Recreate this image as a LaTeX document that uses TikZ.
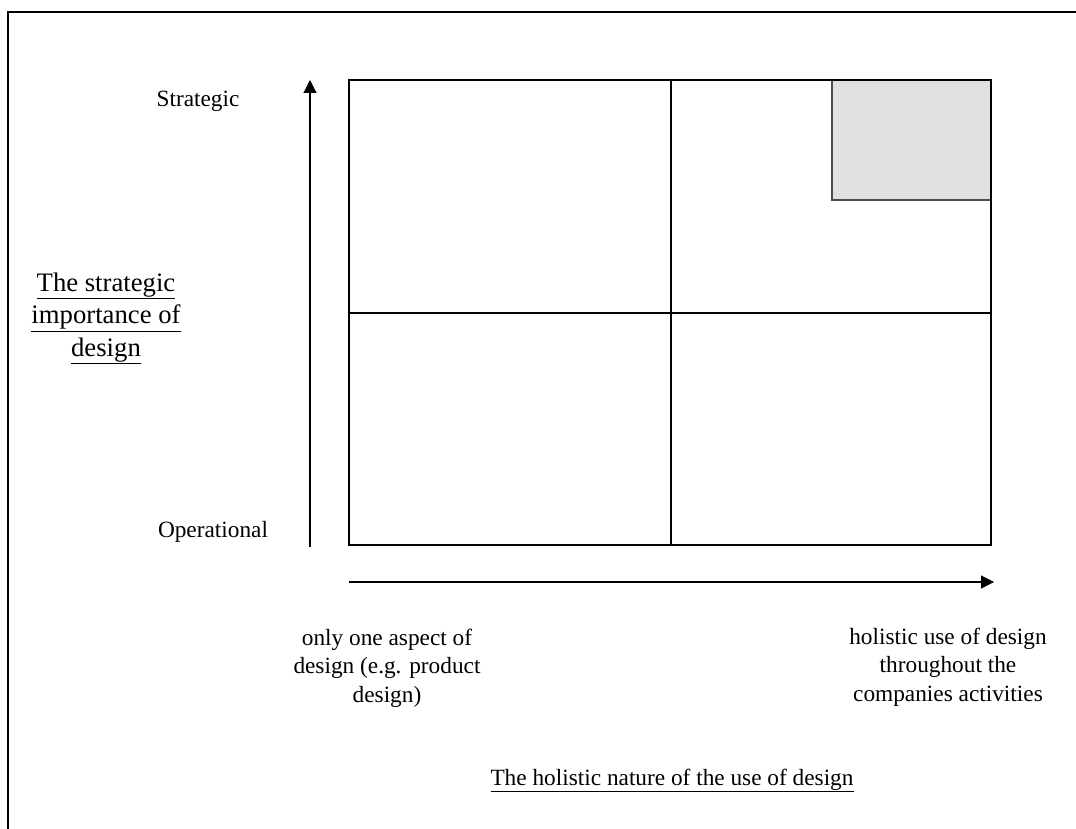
\documentclass[tikz,border=0pt]{standalone}
\usepackage{fontspec}
\setmainfont{Liberation Serif}
\usetikzlibrary{arrows.meta}
\begin{document}
\begin{tikzpicture}[x=1pt,y=-1pt,
  gridline/.style={line width=1.1pt,black},
  axisarrow/.style={line width=1.1pt,-{Triangle[length=13pt,width=13pt]}},
  lbl/.style={inner sep=0pt,font=\fontsize{23.3}{28.5}\selectfont,align=center},
  biglbl/.style={inner sep=0pt,font=\fontsize{26.7}{32.3}\selectfont,align=center}]
\useasboundingbox (0,0) rectangle (1076,829);

% outer frame: only the top and left sides fall inside the page
\draw[line width=1.3pt] (8,829) -- (8,12) -- (1076,12);

% corner grid points of the matrix
\coordinate (tl) at (349,80);
\coordinate (tr) at (991,80);
\coordinate (bl) at (349,545);
\coordinate (br) at (991,545);
\coordinate (tm) at (671,80);
\coordinate (bm) at (671,545);
\coordinate (ml) at (349,313);
\coordinate (mr) at (991,313);

% highlighted top-right cell
\filldraw[fill=black!12,draw=black!70,line width=1.1pt] (832,80) rectangle (991,200);

% the four quadrants
\draw[gridline] (tl) rectangle (br);
\draw[gridline] (tm) -- (bm);
\draw[gridline] (ml) -- (mr);

% axes
\coordinate (vstart) at (310,547);
\coordinate (vend) at (310,80);
\coordinate (hstart) at (349,582);
\coordinate (hend) at (994,582);
\draw[axisarrow] (vstart) -- (vend);
\draw[axisarrow] (hstart) -- (hend);

% labels (base anchor of a multi-line node sits on its last line)
\node[lbl,anchor=base] (strat) at (198,107) {Strategic};
\node[lbl,anchor=base] (oper) at (213,537) {Operational};
\node[biglbl,anchor=base] (ylab) at (106,356)
  {\underline{The strategic}\\\underline{importance of}\\\underline{design}};
\node[lbl,anchor=base] (lowx) at (387,702)
  {only one aspect of\\design (e.g. product\\design)};
\node[lbl,anchor=base] (highx) at (948,701)
  {holistic use of design\\throughout the\\companies activities};
\node[lbl,anchor=base] (xlab) at (672,785)
  {\underline{The holistic nature of the use of design}};
\end{tikzpicture}
\end{document}
